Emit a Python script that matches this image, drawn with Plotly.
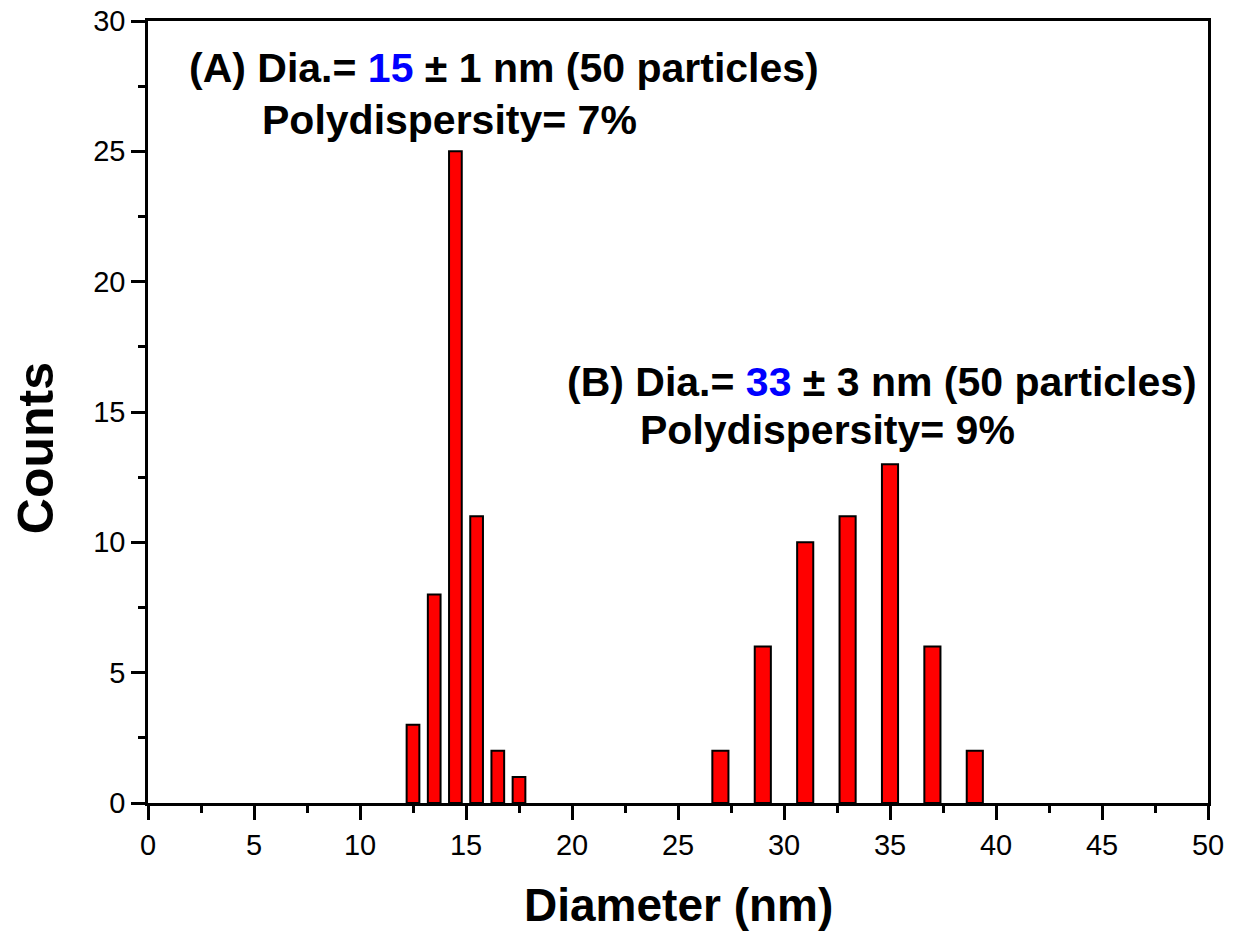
import plotly.graph_objects as go

# Data
dia_A = [12.5, 13.5, 14.5, 15.5, 16.5, 17.5]
counts_A = [3, 8, 25, 11, 2, 1]
dia_B = [27, 29, 31, 33, 35, 37, 39]
counts_B = [2, 6, 10, 11, 13, 6, 2]

x_ticks = [0, 5, 10, 15, 20, 25, 30, 35, 40, 45, 50]
y_ticks = [0, 5, 10, 15, 20, 25, 30]

FONT = "Arial, Liberation Sans, sans-serif"

fig = go.Figure()
fig.add_trace(go.Bar(x=dia_A, y=counts_A, width=0.6,
                     marker=dict(color="#ff0000", line=dict(color="black", width=2)),
                     showlegend=False))
fig.add_trace(go.Bar(x=dia_B, y=counts_B, width=0.76,
                     marker=dict(color="#ff0000", line=dict(color="black", width=2)),
                     showlegend=False))

axis_common = dict(showline=True, linecolor="black", linewidth=2.5, mirror=True,
                   ticks="outside", ticklen=14, tickwidth=2.5, tickcolor="black",
                   showgrid=False, zeroline=False, ticklabeloverflow="allow",
                   tickfont=dict(family=FONT, size=29, color="black"))

fig.update_xaxes(range=[0, 50], tickvals=x_ticks, ticktext=[str(v) for v in x_ticks],
                 minor=dict(ticks="outside", ticklen=7, tickwidth=2.5, tickcolor="black", dtick=2.5, tick0=0),
                 **axis_common)
fig.update_yaxes(range=[0, 30], tickvals=y_ticks, ticktext=[str(v) for v in y_ticks],
                 minor=dict(ticks="outside", ticklen=7, tickwidth=2.5, tickcolor="black", dtick=2.5, tick0=0),
                 **axis_common)

fig.add_annotation(xref="paper", yref="paper", x=0.5, y=-0.131, xanchor="center", yanchor="middle",
                   text="<b>Diameter (nm)</b>", showarrow=False,
                   font=dict(family=FONT, size=46, color="black"))
fig.add_annotation(xref="paper", yref="paper", x=-0.1055, y=0.454, xanchor="center", yanchor="middle",
                   text="<b>Counts</b>", textangle=-90, showarrow=False,
                   font=dict(family=FONT, size=50, color="black"))

ann_font = dict(family=FONT, size=41, color="black")
annotations = [
    dict(x=1.84, y=28.2, text="<b>(A) Dia.= <span style='color:#0000ff'>15</span> ± 1 nm (50 particles)</b>"),
    dict(x=5.28, y=26.2, text="<b>Polydispersity= 7%</b>"),
    dict(x=19.67, y=16.15, text="<b>(B) Dia.= <span style='color:#0000ff'>33</span> ± 3 nm (50 particles)</b>"),
    dict(x=23.1, y=14.3, text="<b>Polydispersity= 9%</b>"),
]
for a in annotations:
    fig.add_annotation(xref="x", yref="y", xanchor="left", yanchor="middle",
                       showarrow=False, font=ann_font, **a)

fig.update_layout(width=1239, height=934,
                  margin=dict(l=148, r=31, t=21, b=131, autoexpand=False),
                  plot_bgcolor="white", paper_bgcolor="white",
                  barmode="overlay", font=dict(family=FONT, color="black"))

fig.write_html("out.html", config={"displayModeBar": False},
               post_script="document.body.style.margin='0';document.body.style.padding='0';")
